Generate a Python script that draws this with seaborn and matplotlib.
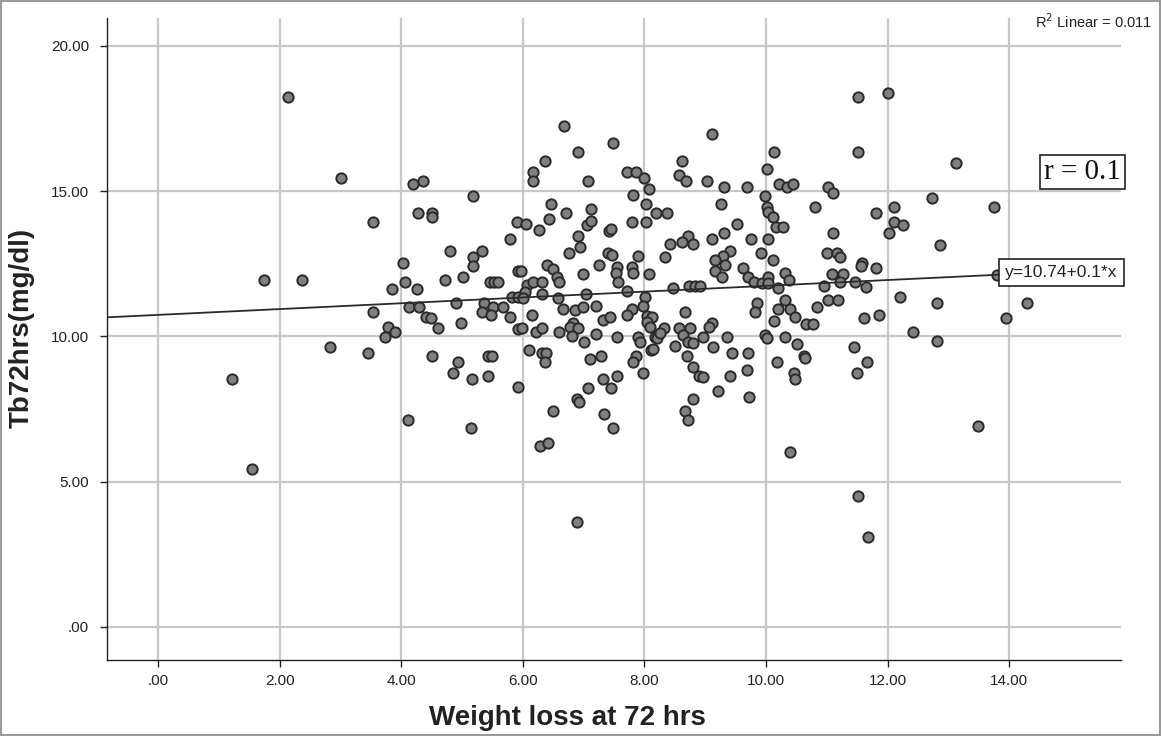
import matplotlib
matplotlib.use("Agg")
import matplotlib.pyplot as plt
import seaborn as sns
import numpy as np
import pandas as pd
from matplotlib.patches import Rectangle

# ---------------- data ----------------
weight_loss = [
    1.22, 1.55, 2.83, 3.45, 2.14, 3.01, 3.54, 1.74, 2.37, 3.54,
    4.19, 4.36, 5.18, 4.28, 4.51, 4.51, 5.90, 5.79, 4.80, 5.33, 5.18, 5.18, 4.03, 5.92,
    4.06, 3.85, 4.26, 4.72, 5.02, 5.46, 5.53, 5.59, 5.82, 5.92, 4.13, 4.29, 4.41, 4.49,
    4.61, 4.90, 4.98, 5.36, 5.33, 5.51, 5.48, 5.67, 5.79, 5.92, 3.78, 3.90, 3.73,
    4.51, 4.93, 4.85, 5.16, 5.43, 5.49, 5.43, 5.92, 4.11, 5.15,
    6.68, 6.91, 7.48, 6.37, 6.17, 6.17, 7.07, 7.71, 7.86, 7.99, 8.08, 7.81, 8.03, 8.19,
    6.46, 6.71, 7.12, 6.05, 6.43, 6.27, 7.06, 7.12, 7.42, 7.45, 7.80, 8.03, 6.91, 6.94,
    6.76, 7.40, 7.46, 7.25, 7.89, 5.97, 6.40, 6.50, 6.56, 6.60, 6.99, 7.55, 7.53, 7.57,
    7.80, 7.81, 8.08, 6.07, 6.17, 6.32, 6.04, 6.32, 6.00, 6.58, 7.04, 7.71, 8.01, 6.66,
    6.86, 6.99, 7.20, 7.98, 7.80, 7.71, 6.15, 6.83, 6.78, 6.91, 7.32, 7.43, 8.04, 8.12,
    8.04, 8.09, 5.99, 6.22, 6.32, 6.60, 6.81, 7.20, 7.55, 7.89, 8.17,
    7.01, 7.93, 8.21, 6.10, 6.32, 6.38, 6.37, 7.11, 7.29, 7.86, 7.81, 8.11, 7.98, 7.32,
    7.55, 7.45, 7.07, 6.89, 6.92, 6.50, 7.34, 7.48, 6.28, 6.41, 6.89,
    9.11, 10.13, 8.62, 10.02, 8.57, 8.68, 9.03, 9.31, 9.69, 10.21, 10.34, 10.44, 9.98,
    9.26, 10.02, 10.03, 10.11, 8.37, 9.52, 10.16, 10.28, 8.72, 8.62, 8.42, 8.80, 9.11,
    9.31, 9.75, 10.03, 8.34, 9.41, 9.29, 9.16, 9.33, 9.16, 9.28, 9.92, 10.11, 9.62,
    9.70, 9.80, 9.93, 10.03, 10.03, 10.31, 10.38, 10.20, 8.47, 8.73, 8.83, 8.91, 10.31,
    9.85, 9.82, 10.20, 10.39, 10.48, 10.13, 8.67, 9.11, 9.06, 8.32, 8.57, 8.75, 8.26,
    8.63, 8.97, 9.36, 9.98, 10.31,
    8.14, 8.50, 8.72, 8.80, 9.13, 8.70, 8.80, 8.90, 8.96, 9.41, 9.44, 9.70, 9.69, 9.21,
    9.72, 8.80, 8.67, 8.72, 10.02, 10.51, 10.18, 10.46, 10.48, 10.39,
    11.51, 12.01, 11.51, 11.02, 11.10, 12.73, 10.81, 11.81, 12.11, 12.11, 12.25, 12.02,
    11.10, 12.86, 11.00, 11.17, 11.22, 11.58, 11.56, 11.81, 11.09, 11.27, 10.95, 11.22,
    11.46, 11.64, 12.20, 12.81, 11.02, 11.18, 10.84, 10.66, 10.77, 11.61, 11.86, 12.42,
    12.82,
    10.63, 10.64, 11.45, 11.66, 11.50, 11.51, 11.68,
    13.13, 13.75, 13.80, 14.29, 13.95, 13.49,
]
tb72 = [
    8.54, 5.44, 9.64, 9.43, 18.24, 15.46, 13.94, 11.94, 11.94, 10.84,
    15.25, 15.35, 14.84, 14.25, 14.25, 14.10, 13.94, 13.36, 12.94, 12.94, 12.74, 12.43, 12.53, 12.25,
    11.88, 11.63, 11.63, 11.94, 12.05, 11.88, 11.88, 11.88, 11.36, 11.36, 11.02, 11.02, 10.67, 10.64,
    10.29, 11.15, 10.46, 11.15, 10.84, 11.02, 10.74, 11.02, 10.67, 10.26, 10.33, 10.16, 9.98,
    9.33, 9.12, 8.74, 8.54, 9.33, 9.33, 8.64, 8.26, 7.13, 6.85,
    17.25, 16.35, 16.66, 16.04, 15.66, 15.35, 15.35, 15.66, 15.66, 15.46, 15.08, 14.87, 14.56, 14.25,
    14.56, 14.25, 14.39, 13.87, 14.04, 13.67, 13.84, 13.98, 13.63, 13.70, 13.94, 13.94, 13.46, 13.08,
    12.87, 12.87, 12.80, 12.46, 12.77, 12.25, 12.46, 12.32, 12.05, 11.88, 12.15, 12.39, 12.19, 11.88,
    12.39, 12.19, 12.15, 11.77, 11.88, 11.88, 11.53, 11.46, 11.32, 11.32, 11.46, 11.57, 11.36, 10.95,
    10.91, 11.02, 11.05, 11.05, 10.95, 10.74, 10.74, 10.46, 10.33, 10.29, 10.57, 10.67, 10.71, 10.67,
    10.50, 10.33, 10.29, 10.16, 10.29, 10.16, 10.02, 10.09, 9.98, 9.98, 9.98,
    9.81, 9.81, 9.95, 9.53, 9.43, 9.43, 9.12, 9.22, 9.33, 9.33, 9.12, 9.53, 8.74, 8.54,
    8.64, 8.23, 8.23, 7.85, 7.75, 7.44, 7.33, 6.85, 6.23, 6.33, 3.61,
    16.97, 16.35, 16.04, 15.77, 15.56, 15.35, 15.35, 15.15, 15.15, 15.25, 15.15, 15.25, 14.84,
    14.56, 14.46, 14.29, 14.11, 14.25, 13.87, 13.77, 13.77, 13.46, 13.25, 13.18, 13.18, 13.36,
    13.56, 13.36, 13.36, 12.74, 12.94, 12.77, 12.63, 12.46, 12.25, 12.05, 12.87, 12.63, 12.36,
    12.05, 11.88, 11.84, 12.05, 11.84, 12.19, 11.94, 11.67, 11.67, 11.74, 11.74, 11.74, 11.26,
    11.15, 10.84, 10.95, 10.95, 10.67, 10.53, 10.84, 10.46, 10.33, 10.29, 10.29, 10.29, 10.12,
    10.05, 9.98, 9.98, 10.05, 9.98,
    9.57, 9.67, 9.81, 9.77, 9.64, 9.33, 8.95, 8.64, 8.61, 8.64, 9.43, 9.43, 8.85, 8.12,
    7.92, 7.85, 7.44, 7.13, 9.95, 9.74, 9.12, 8.74, 8.54, 6.02,
    18.24, 18.38, 16.35, 15.15, 14.94, 14.77, 14.46, 14.25, 14.46, 13.94, 13.84, 13.56,
    13.56, 13.15, 12.87, 12.87, 12.74, 12.53, 12.43, 12.36, 12.15, 12.15, 11.74, 11.88,
    11.88, 11.70, 11.36, 11.15, 11.26, 11.26, 11.02, 10.43, 10.43, 10.64, 10.74, 10.16,
    9.85,
    9.33, 9.26, 9.64, 9.12, 8.74, 4.51, 3.10,
    15.97, 14.46, 12.12, 11.15, 10.64, 6.92,
]

x_ticks = [0, 2, 4, 6, 8, 10, 12, 14]
x_tick_labels = [".00", "2.00", "4.00", "6.00", "8.00", "10.00", "12.00", "14.00"]
y_ticks = [0, 5, 10, 15, 20]
y_tick_labels = [".00", "5.00", "10.00", "15.00", "20.00"]

fit_intercept = 10.74
fit_slope = 0.1

# ---------------- styling ----------------
sns.set_theme(style="white")
plt.rcParams['font.family'] = ['Liberation Sans', 'DejaVu Sans']

W, H = 1161, 736
fig = plt.figure(figsize=(W / 100, H / 100), dpi=100)
ax = fig.add_axes([107 / W, 1 - 660 / H, (1121 - 107) / W, (660 - 18) / H])

df = pd.DataFrame({"Weight loss at 72 hrs": weight_loss, "Tb72hrs(mg/dl)": tb72})
sns.scatterplot(data=df, x="Weight loss at 72 hrs", y="Tb72hrs(mg/dl)", ax=ax,
                s=55, color="#808080", edgecolor="#2a2a2a", linewidth=1.4, zorder=3)

ax.set_xlim(-0.84, 15.84)
ax.set_ylim(-1.14, 20.96)
ax.set_xticks(x_ticks)
ax.set_xticklabels(x_tick_labels)
ax.set_yticks(y_ticks)
ax.set_yticklabels(y_tick_labels)
ax.tick_params(axis="both", labelsize=11, colors="#222222", length=5, width=1,
               direction="out", left=True, bottom=True)
ax.tick_params(axis="x", pad=5)
ax.tick_params(axis="y", pad=8)
ax.grid(True, color="#c8c8c8", linewidth=1.6)
ax.set_axisbelow(True)
for side in ["top", "right"]:
    ax.spines[side].set_visible(False)
for side in ["left", "bottom"]:
    ax.spines[side].set_color("#222222")
    ax.spines[side].set_linewidth(1.0)
ax.set_xlabel("")
ax.set_ylabel("")

# regression line across the whole x range
xs = np.array(ax.get_xlim())
ax.plot(xs, fit_intercept + fit_slope * xs, color="#2a2a2a", linewidth=1.3, zorder=4)
ax.set_xlim(-0.84, 15.84)

ax.text(0.941, 0.604, "y=10.74+0.1*x", transform=ax.transAxes, ha="center", va="center",
        fontsize=12.5, color="#222222", zorder=6,
        bbox=dict(boxstyle="square,pad=0.35", fc="white", ec="#222222", lw=1.2))
ax.text(0.962, 0.760, "r = 0.1", transform=ax.transAxes, ha="center", va="center",
        fontsize=21, family="Liberation Serif", color="#111111", zorder=6,
        bbox=dict(boxstyle="square,pad=0.15", fc="white", ec="#222222", lw=1.2))

fig.text(1093 / W, 1 - 22 / H, r"R$^2$ Linear = 0.011", ha="center", va="center",
         fontsize=10.5, color="#222222")
fig.text(567 / W, 1 - 718 / H, "Weight loss at 72 hrs", ha="center", va="center",
         fontsize=20, fontweight="bold", color="#222222")
fig.text(22 / W, 1 - 328 / H, "Tb72hrs(mg/dl)", ha="center", va="center", rotation=90,
         fontsize=20, fontweight="bold", color="#222222")

fig.patches.append(Rectangle((0.001, 0.001), 0.998, 0.998, transform=fig.transFigure,
                             fill=False, ec="#9a9a9a", lw=1.5))

fig.savefig("out.png", dpi=100)
